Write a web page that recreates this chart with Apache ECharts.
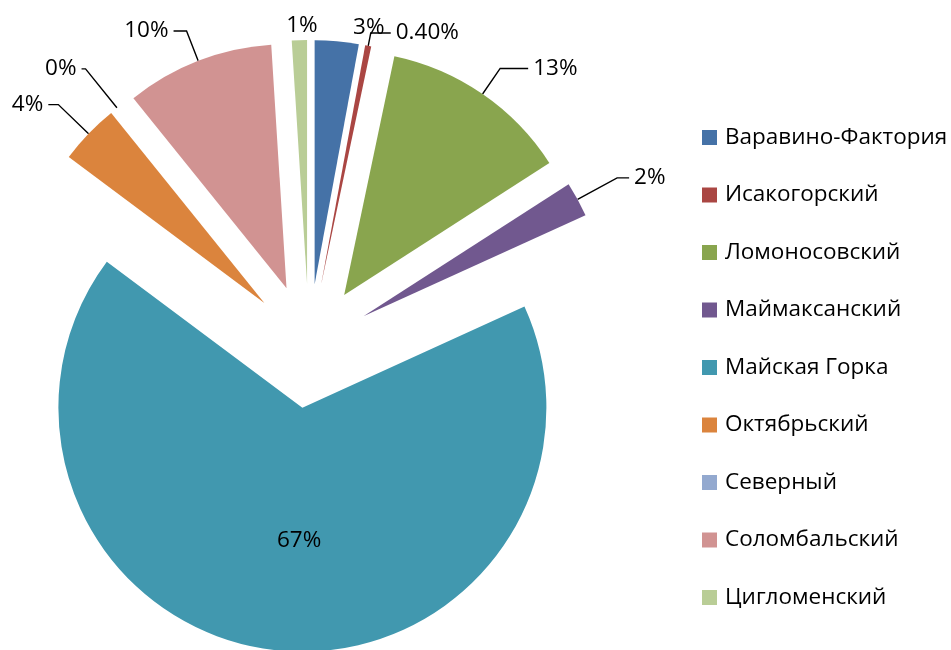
<!DOCTYPE html>
<html>
<head>
<meta charset="utf-8">
<script src="https://cdn.jsdelivr.net/npm/echarts@6/dist/echarts.min.js"></script>
<style>
html,body{margin:0;padding:0;background:#fff;}
#chart{width:951px;height:650px;}
</style>
</head>
<body>
<div id="chart"></div>
<script>
const categories = ['Варавино-Фактория','Исакогорский','Ломоносовский','Маймаксанский','Майская Горка','Октябрьский','Северный','Соломбальский','Цигломенский'];
const values = [2.9, 0.4, 12.6, 2.3, 67.0, 4.0, 0, 9.8, 1.0];
const labelTexts = ['3%','0.40%','13%','2%','67%','4%','0%','10%','1%'];
const colors = ['#4572A7','#AA4643','#89A54E','#71588F','#4198AF','#DB843D','#93A9CF','#D19392','#B9CD96'];

// leader-line styling per slice: [length, length2, showLine]
const leaderStyle = {
  'Варавино-Фактория': [14, 10, false],
  'Исакогорский': [13, 20, true],
  'Ломоносовский': [31, 28, true],
  'Маймаксанский': [45, 12, true],
  'Октябрьский': [42, 10, true],
  'Северный': [50, 4, true],
  'Соломбальский': [32, 13, true],
  'Цигломенский': [15, 0, false]
};

const FONT = 'Open Sans';
const FS = 22.5;
const chart = echarts.init(document.getElementById('chart'));
const data = categories.map((name, i) => {
  const item = { name, value: values[i], selected: true, itemStyle: { color: colors[i] } };
  if (name === 'Майская Горка') {
    item.label = { position: 'inside' };
  } else {
    const s = leaderStyle[name];
    item.labelLine = { show: s[2], length: s[0], length2: s[1] };
  }
  return item;
});
chart.setOption({
  animation: false,
  color: colors,
  legend: {
    orient: 'vertical',
    left: 697,
    top: 121,
    itemWidth: 15,
    itemHeight: 15,
    itemGap: 34.5,
    icon: 'rect',
    selectedMode: false,
    textStyle: { fontFamily: FONT, fontSize: FS, color: '#000', padding: [0,0,0,3] },
    data: categories
  },
  series: [{
    type: 'pie',
    center: [309, 346],
    radius: 244,
    startAngle: 90,
    clockwise: true,
    selectedMode: 'multiple',
    selectedOffset: 62,
    avoidLabelOverlap: false,
    emphasis: { disabled: true },
    label: {
      show: true,
      position: 'outside',
      fontFamily: FONT,
      fontSize: FS,
      color: '#000',
      formatter: p => labelTexts[p.dataIndex]
    },
    labelLine: {
      show: true,
      lineStyle: { color: '#000', width: 1.4 }
    },
    labelLayout: p => {
      const name = categories[p.dataIndex];
      if (name === 'Цигломенский') return { align: 'center', dx: 8 };
      if (name === 'Майская Горка') return { dx: 10, dy: 9 };
      return {};
    },
    data: data
  }]
});
</script>
</body>
</html>
